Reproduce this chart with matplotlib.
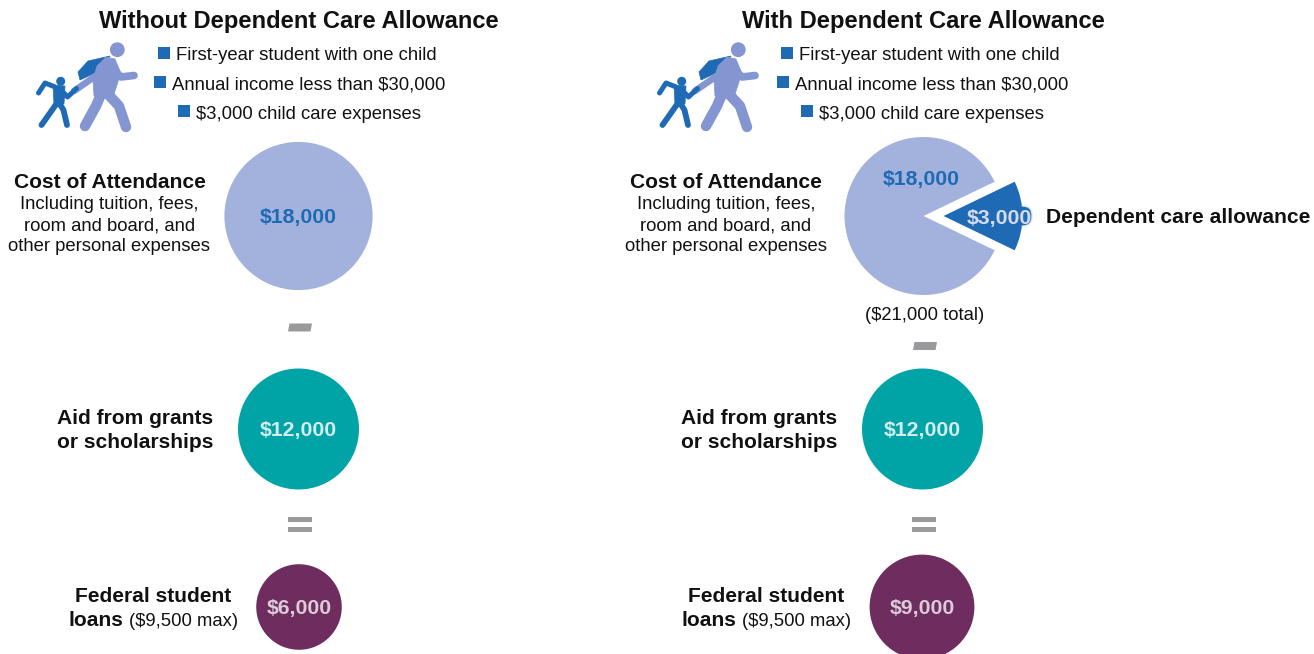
import numpy as np
from matplotlib import pyplot as plt
from matplotlib.patches import Circle, Polygon, FancyBboxPatch

plt.rcParams['font.family'] = ['Liberation Sans', 'DejaVu Sans']

W, H = 1314, 654

titles = ['Without Dependent Care Allowance', 'With Dependent Care Allowance']
bullets = ['First-year student with one child', 'Annual income less than $30,000', '$3,000 child care expenses']
cost_lines = ['Including tuition, fees,', 'room and board, and', 'other personal expenses']

cost = 18000
allowance = 3000
grants = 12000
loans_without = 6000
loans_with = 9000
total = cost + allowance

LIGHT = '#a3b2dc'
BLUE = '#1f6ab5'
TEAL = '#00a3a6'
PURPLE = '#6e2c5f'
GREY = '#9a9a9c'
ICON = '#8496d2'
INK = '#111111'
AREA = 0.305  # px^2 per dollar, circles are scaled by area
BIG = 15.1
SMALL = 13.3


def Y(py):
    return H - py


def T(py):
    # text sits a bit high with va=center because of the descender
    return H - py - 1.7


def radius(v):
    return np.sqrt(v * AREA)


def blob(ax, v, cx, cy, color, txt_color):
    ax.pie([v], colors=[color], center=(cx, Y(cy)), radius=radius(v), frame=True)
    ax.text(cx, T(cy), '${:,}'.format(v), color=txt_color, fontsize=15.3, fontweight='bold', ha='center', va='center')


def limb(ax, pts, dx, color, lw):
    pts = np.array(pts, dtype=float)
    ax.plot(pts[:, 0] + dx, H - pts[:, 1], color=color, lw=lw, solid_capstyle='round', solid_joinstyle='round')


def shape(ax, pts, dx, color):
    pts = np.array(pts, dtype=float)
    pts[:, 0] += dx
    pts[:, 1] = H - pts[:, 1]
    ax.add_patch(Polygon(pts, closed=True, color=color, lw=0.5))


def icon(ax, dx):
    # backpack first so the adult sits on top of it
    shape(ax, [[78, 72], [88, 61], [110, 56], [97, 72], [80, 80]], dx, BLUE)
    limb(ax, [[97, 75], [74, 91]], dx, ICON, 4.8)
    shape(ax, [[106, 57], [115, 59], [120, 71], [118, 82], [113, 97], [94, 96], [93, 80], [97, 66]], dx, ICON)
    limb(ax, [[116, 72], [121, 77], [134, 75.5]], dx, ICON, 5.5)
    limb(ax, [[102, 92], [96, 106], [85, 126]], dx, ICON, 7.5)
    limb(ax, [[106, 92], [119, 106], [126, 127]], dx, ICON, 7.5)
    ax.add_patch(Circle((dx + 117.3, Y(49.7)), 7.4, color=ICON, lw=0))
    shape(ax, [[53, 85], [65, 86], [64, 104], [54, 104]], dx, BLUE)
    limb(ax, [[54, 86.5], [45, 83], [38.5, 93]], dx, BLUE, 3.6)
    limb(ax, [[62, 91], [67.5, 97], [76.5, 88.5]], dx, BLUE, 3.6)
    limb(ax, [[57, 103], [50, 113], [41.5, 125]], dx, BLUE, 4.2)
    limb(ax, [[59, 103], [63.5, 110], [67, 125]], dx, BLUE, 4.2)
    ax.add_patch(Circle((dx + 60.7, Y(81.3)), 4.5, color=BLUE, lw=0))


def minus(ax, cx, cy):
    pts = [[cx - 12, Y(cy + 4)], [cx + 10.5, Y(cy + 4)], [cx + 12, Y(cy - 4)], [cx - 10.5, Y(cy - 4)]]
    ax.add_patch(Polygon(pts, closed=True, color=GREY, lw=0))


def equals(ax, cx, cy):
    for off in [-5, 5]:
        ax.add_patch(plt.Rectangle((cx - 12, Y(cy + off + 2.5)), 24, 5, color=GREY, lw=0))


def panel(ax, dx, icon_dx, title, title_x, cost_x, grant_x, loan_x, loan_note_x):
    ax.text(title_x, T(20), title, fontsize=17.1, fontweight='bold', color=INK, ha='center', va='center')
    icon(ax, icon_dx)
    square_x = [164, 160, 184]
    text_x = [176, 172, 196]
    for i, b in enumerate(bullets):
        py = 54 + i * 29.2
        ax.plot([dx + square_x[i]], [Y(py - 1)], 's', color=BLUE, ms=8.2, mew=0)
        ax.text(dx + text_x[i], T(py), b, fontsize=SMALL, color=INK, ha='left', va='center')
    ax.text(cost_x, T(181), 'Cost of Attendance', fontsize=BIG, fontweight='bold', color=INK, ha='center', va='center')
    for i, line in enumerate(cost_lines):
        ax.text(cost_x, T(203 + i * 21), line, fontsize=SMALL, color=INK, ha='center', va='center')
    ax.text(grant_x, T(417), 'Aid from grants', fontsize=BIG, fontweight='bold', color=INK, ha='right', va='center')
    ax.text(grant_x, T(441), 'or scholarships', fontsize=BIG, fontweight='bold', color=INK, ha='right', va='center')
    ax.text(loan_x, T(595), 'Federal student', fontsize=BIG, fontweight='bold', color=INK, ha='right', va='center')
    ax.text(loan_note_x, T(619), 'loans', fontsize=BIG, fontweight='bold', color=INK, ha='right', va='center')
    ax.text(loan_note_x + 6, T(620), '($9,500 max)', fontsize=SMALL, color=INK, ha='left', va='center')


fig = plt.figure(figsize=(W / 100, H / 100), dpi=100)
ax = fig.add_axes([0, 0, 1, 1])

panel(ax, 0, 0, titles[0], 298.5, 109.5, 213, 231, 123)
panel(ax, 623, 621, titles[1], 923, 726, 837, 844, 736)

# left column
blob(ax, cost, 298.5, 216, LIGHT, BLUE)
minus(ax, 300, 327.5)
blob(ax, grants, 298.5, 429, TEAL, '#d5eced')
equals(ax, 300, 524)
blob(ax, loans_without, 299, 607, PURPLE, '#dcccd9')

# right column, the allowance slice is pulled out of the pie
# the rim under the slice only shows where the label runs past the slice
ax.add_patch(FancyBboxPatch((975, Y(226)), 57, 20, boxstyle='round,pad=0,rounding_size=9',
                            fc=BLUE, ec='#dfe6f5', lw=1, zorder=0.5))
ax.pie([allowance, cost], colors=[BLUE, LIGHT], center=(923.5, Y(216)), radius=79,
       startangle=-360 * allowance / total / 2, explode=[20, 0], frame=True)
ax.text(921, T(178), '${:,}'.format(cost), color=BLUE, fontsize=15.3, fontweight='bold', ha='center', va='center')
ax.text(999, T(216.5), '${:,}'.format(allowance), color='#d5dcf0', fontsize=15.3, fontweight='bold', ha='center', va='center')
ax.text(1046, T(216), 'Dependent care allowance', color=INK, fontsize=BIG, fontweight='bold', ha='left', va='center')
ax.text(924.5, T(314), '(${:,} total)'.format(total), color=INK, fontsize=SMALL, ha='center', va='center')
minus(ax, 925, 346)
blob(ax, grants, 922.5, 429, TEAL, '#d5eced')
equals(ax, 924, 524)
blob(ax, loans_with, 922, 607, PURPLE, '#dcccd9')

ax.set_xlim(0, W)
ax.set_ylim(0, H)
ax.set_aspect('auto')
ax.axis('off')
fig.savefig('out.png', dpi=100)
